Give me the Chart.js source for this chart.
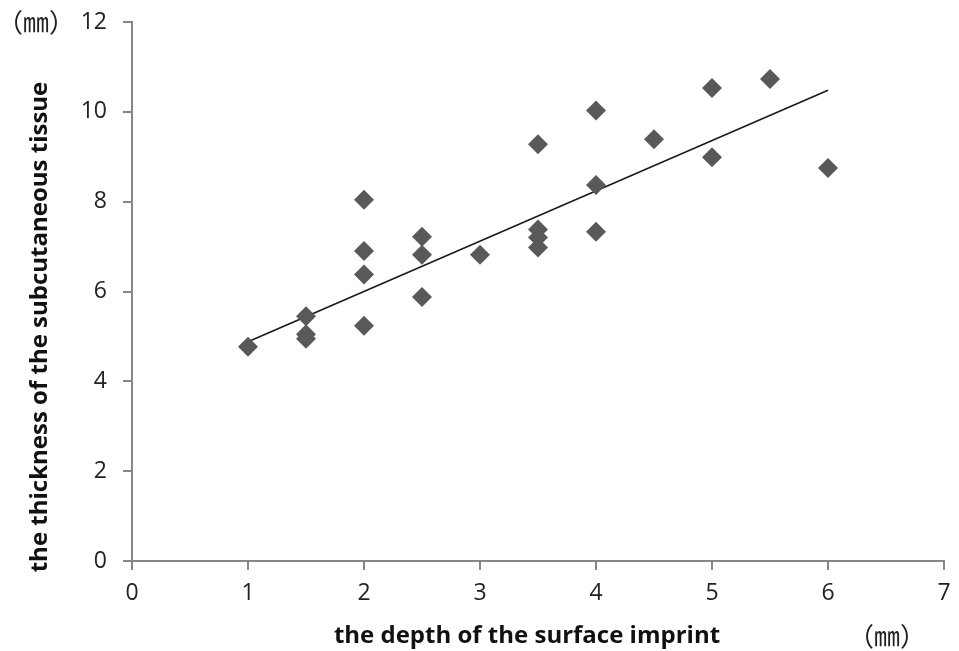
<!DOCTYPE html>
<html>
<head>
<meta charset="utf-8">
<script src="https://cdn.jsdelivr.net/npm/chart.js@4"></script>
<style>
  html, body { margin: 0; padding: 0; background: #fff; }
  #wrap { width: 959px; height: 651px; }
</style>
</head>
<body>
<div id="wrap"><canvas id="chart"></canvas></div>
<script>
// depth of imprint (mm) vs thickness of subcutaneous tissue (mm)
const depth = [1, 1.5, 1.5, 1.5, 2, 2, 2, 2, 2.5, 2.5, 2.5, 3, 3.5, 3.5, 3.5, 3.5, 4, 4, 4, 4.5, 5, 5, 5.5, 6];
const thickness = [4.77, 5.45, 5.05, 4.95, 8.04, 6.9, 6.38, 5.24, 7.22, 6.82, 5.88, 6.82, 9.28, 7.38, 7.2, 6.98, 10.03, 8.37, 7.33, 9.39, 10.53, 8.99, 10.73, 8.75];
const trendX = [1, 6];
const trendY = [4.88, 10.48];
const xTicks = [0, 1, 2, 3, 4, 5, 6, 7];
const yTicks = [0, 2, 4, 6, 8, 10, 12];

const xTitle = 'the depth of the surface imprint';
const yTitle = 'the thickness of the subcutaneous tissue';
const unitLabel = '（㎜）';

const axisGray = '#868686';
const tickFont = { family: 'Open Sans', size: 23 };

const points = depth.map((x, i) => ({ x: x, y: thickness[i] }));
const trend = trendX.map((x, i) => ({ x: x, y: trendY[i] }));

// extra labels: axis titles and the unit marks
const labelsPlugin = {
  id: 'labels',
  afterDraw(chart) {
    const ctx = chart.ctx;
    ctx.save();
    ctx.fillStyle = '#111';
    ctx.textBaseline = 'middle';
    ctx.textAlign = 'center';
    ctx.font = 'bold 24px "Open Sans"';
    ctx.fillText(xTitle, 527, 636);

    ctx.save();
    ctx.translate(40, 327);
    ctx.rotate(-Math.PI / 2);
    ctx.fillText(yTitle, 0, 0);
    ctx.restore();

    ctx.font = '26px "Noto Sans CJK JP"';
    ctx.fillStyle = '#222';
    ctx.fillText(unitLabel, 36, 22);
    ctx.fillText(unitLabel, 887, 636);
    ctx.restore();
  }
};

new Chart(document.getElementById('chart'), {
  type: 'scatter',
  data: {
    datasets: [
      {
        data: points,
        pointStyle: 'rectRot',
        pointRadius: 10,
        pointHoverRadius: 10,
        backgroundColor: '#595959',
        borderWidth: 0
      },
      {
        data: trend,
        showLine: true,
        borderColor: '#1a1a1a',
        borderWidth: 1.6,
        pointRadius: 0
      }
    ]
  },
  options: {
    responsive: true,
    maintainAspectRatio: false,
    animation: false,
    layout: { padding: { top: 22, right: 15, left: 0, bottom: 0 } },
    plugins: { legend: { display: false }, tooltip: { enabled: false } },
    scales: {
      x: {
        type: 'linear',
        min: 0,
        max: 7,
        afterBuildTicks: s => { s.ticks = xTicks.map(v => ({ value: v })); },
        afterFit: s => { s.height = 90; s.paddingLeft = 0; s.paddingRight = 0; },
        border: { color: axisGray, width: 2 },
        grid: { drawOnChartArea: false, drawTicks: true, tickLength: 9, color: axisGray, lineWidth: 2 },
        ticks: { color: '#222', font: tickFont, padding: 10, maxRotation: 0 }
      },
      y: {
        type: 'linear',
        min: 0,
        max: 12,
        afterBuildTicks: s => { s.ticks = yTicks.map(v => ({ value: v })); },
        afterFit: s => { s.width = 132; s.paddingTop = 0; s.paddingBottom = 0; },
        border: { color: axisGray, width: 2 },
        grid: { drawOnChartArea: false, drawTicks: true, tickLength: 9, color: axisGray, lineWidth: 2 },
        ticks: { color: '#222', font: tickFont, padding: 16 }
      }
    }
  },
  plugins: [labelsPlugin]
});
</script>
</body>
</html>
